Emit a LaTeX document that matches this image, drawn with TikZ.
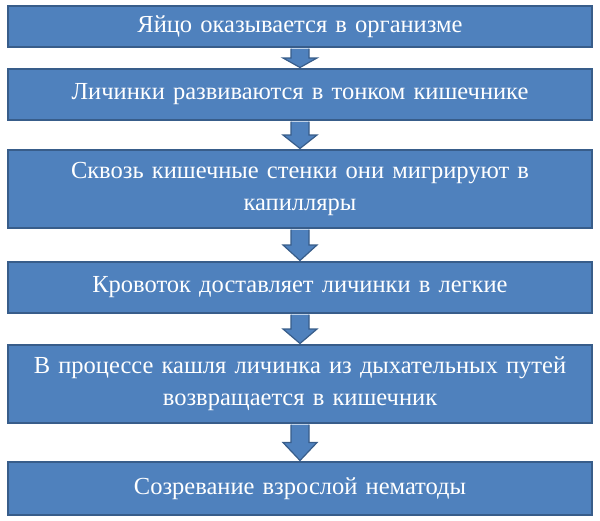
\documentclass[tikz,border=0pt]{standalone}
\usepackage{fontspec}
\setmainfont{Liberation Serif}
\usetikzlibrary{calc}
\definecolor{bfill}{HTML}{4F81BD}
\definecolor{bline}{HTML}{385D8A}
\begin{document}
\begin{tikzpicture}[x=1pt,y=-1pt,
  box/.style={draw=bline,line width=1.5pt,fill=bfill,text=white,minimum width=584pt,text width=575pt,align=center,inner sep=0pt,font=\fontsize{24.5}{32}\selectfont},
  arr/.style={draw=bline,line width=1.2pt,fill=bfill,line join=miter}]
\useasboundingbox (0,0) rectangle (600,520);
\node[box,minimum height=41pt] (b1) at (300,26.5) {Яйцо оказывается в организме};
\node[box,minimum height=51pt] (b2) at (300,94.5) {Личинки развиваются в тонком кишечнике};
\node[box,minimum height=78pt] (b3) at (300,189) {Сквозь кишечные стенки они мигрируют в\\капилляры};
\node[box,minimum height=51pt] (b4) at (300,287.5) {Кровоток доставляет личинки в легкие};
\node[box,minimum height=78pt] (b5) at (300,384) {В процессе кашля личинка из дыхательных путей\\возвращается в кишечник};
\node[box,minimum height=53pt] (b6) at (300,488.5) {Созревание взрослой нематоды};
\foreach \a/\b in {b1/b2,b2/b3,b3/b4,b4/b5,b5/b6}{
  \path let \p1=(\a.south), \p2=(\b.north), \n1={\y1-0.75pt}, \n2={\y2+0.75pt} in
  coordinate (s) at (300,\n1) coordinate (t) at (300,\n2);
  \draw[arr] let \p1=(s), \p2=(t), \n3={\y2+0.5*(\y1-\y2)} in
   (291,\y1) -- (291,\n3) -- (283,\n3) -- (300,\y2) -- (317,\n3) -- (309,\n3) -- (309,\y1);
}
\end{tikzpicture}
\end{document}
